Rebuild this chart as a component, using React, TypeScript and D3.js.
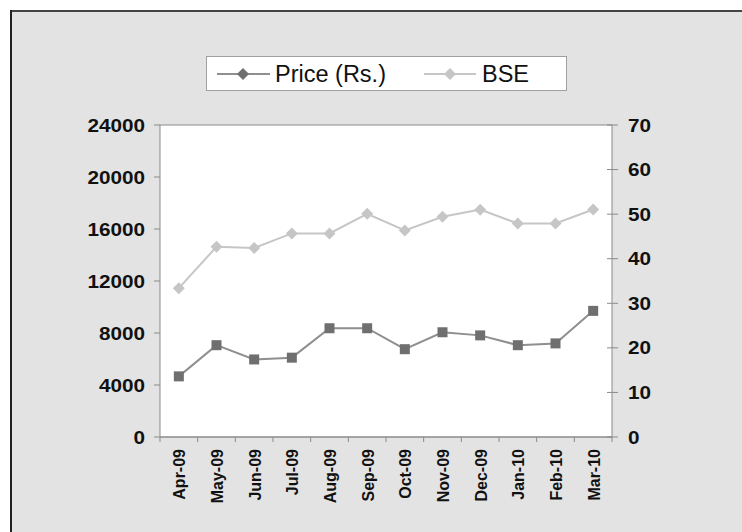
import React from "react";
import { scaleBand, scaleLinear, line } from "d3";

// months on the x axis
const months = [
  "Apr-09", "May-09", "Jun-09", "Jul-09", "Aug-09", "Sep-09",
  "Oct-09", "Nov-09", "Dec-09", "Jan-10", "Feb-10", "Mar-10",
];
// share price, read against the right axis
const price = [13.6, 20.6, 17.4, 17.8, 24.4, 24.4, 19.7, 23.5, 22.8, 20.6, 21.0, 28.3];
// BSE sensex, read against the left axis
const bse = [11450, 14630, 14530, 15660, 15660, 17170, 15890, 16940, 17490, 16420, 16420, 17500];

const leftTicks = [0, 4000, 8000, 12000, 16000, 20000, 24000];
const rightTicks = [0, 10, 20, 30, 40, 50, 60, 70];

const W = 742;
const H = 532;
const plot = { left: 160, right: 612, top: 125, bottom: 437 };
const font = "'Liberation Sans', Arial, Helvetica, sans-serif";

const priceCol = "#6f6f6f";
const priceLine = "#8f8f8f";
const bseCol = "#c6c6c6";
const axisCol = "#8a8a8a";

export default function App() {
  const x = scaleBand().domain(months).range([plot.left, plot.right]);
  const yL = scaleLinear().domain([0, 24000]).range([plot.bottom, plot.top]);
  const yR = scaleLinear().domain([0, 70]).range([plot.bottom, plot.top]);
  const cx = (m) => x(m) + x.bandwidth() / 2;

  const bseLine = line<number>()
    .x((d, i) => cx(months[i]))
    .y((d) => yL(d));
  const priceLinePath = line<number>()
    .x((d, i) => cx(months[i]))
    .y((d) => yR(d));

  const diamond = (px, py, r, fill) => (
    <path
      d={`M${px},${py - r}L${px + r},${py}L${px},${py + r}L${px - r},${py}Z`}
      fill={fill}
    />
  );

  return (
    <div style={{ position: "absolute", left: 0, top: 0 }}>
      <svg width={W} height={H} style={{ display: "block" }}>
        <rect x={0} y={0} width={W} height={H} fill="#fff" />
        <rect x={10} y={10} width={W} height={H} fill="#e3e3e3" />
        <line x1={10} x2={W} y1={11} y2={11} stroke="#444" strokeWidth={2} />
        <line x1={11} x2={11} y1={10} y2={H} stroke="#222" strokeWidth={2} />

        {/* legend */}
        <rect x={206.5} y={56.5} width={360} height={34} fill="#fff" stroke="#a0a0a0" />
        <line x1={217} x2={270} y1={74} y2={74} stroke={priceLine} strokeWidth={2} />
        {diamond(243, 74, 6, priceCol)}
        <text x={275} y={82} fontFamily={font} fontSize={23.5} fill="#111">
          Price (Rs.)
        </text>
        <line x1={424} x2={476} y1={74} y2={74} stroke={bseCol} strokeWidth={2} />
        {diamond(450, 74, 6, bseCol)}
        <text x={482} y={82} fontFamily={font} fontSize={23.5} fill="#111">
          BSE
        </text>

        {/* plot area */}
        <rect
          x={plot.left}
          y={plot.top}
          width={plot.right - plot.left}
          height={plot.bottom - plot.top}
          fill="#fff"
          stroke={axisCol}
        />

        {/* left axis */}
        {leftTicks.map((t) => (
          <g key={"l" + t}>
            <line x1={plot.left - 6} x2={plot.left} y1={yL(t)} y2={yL(t)} stroke={axisCol} />
            <text
              transform={`translate(145, ${yL(t) + 6.5}) scale(1.12, 1)`}
              textAnchor="end"
              fontFamily={font}
              fontWeight="bold"
              fontSize={18.5}
              fill="#111"
            >
              {t}
            </text>
          </g>
        ))}

        {/* right axis */}
        {rightTicks.map((t) => (
          <g key={"r" + t}>
            <line x1={plot.right - 5} x2={plot.right + 6} y1={yR(t)} y2={yR(t)} stroke={axisCol} />
            <text
              transform={`translate(628, ${yR(t) + 6.5}) scale(1.12, 1)`}
              fontFamily={font}
              fontWeight="bold"
              fontSize={18.5}
              fill="#111"
            >
              {t}
            </text>
          </g>
        ))}

        {/* x axis */}
        <line x1={plot.left} x2={plot.right} y1={plot.bottom} y2={plot.bottom} stroke={axisCol} />
        {months.map((m, i) => (
          <line
            key={"xt" + m}
            x1={x(m)}
            x2={x(m)}
            y1={plot.bottom}
            y2={plot.bottom + 5}
            stroke={axisCol}
          />
        ))}
        <line x1={plot.right} x2={plot.right} y1={plot.bottom} y2={plot.bottom + 5} stroke={axisCol} />
        {months.map((m) => (
          <text
            key={"xl" + m}
            transform={`translate(${cx(m) + 6.5}, 449) rotate(-90)`}
            textAnchor="end"
            fontFamily={font}
            fontWeight="bold"
            fontSize={16}
            fill="#111"
          >
            {m}
          </text>
        ))}

        {/* BSE series */}
        <path d={bseLine(bse)} fill="none" stroke={bseCol} strokeWidth={2} />
        {bse.map((v, i) => (
          <g key={"b" + i}>{diamond(cx(months[i]), yL(v), 6, bseCol)}</g>
        ))}

        {/* Price series */}
        <path d={priceLinePath(price)} fill="none" stroke={priceLine} strokeWidth={2} />
        {price.map((v, i) => (
          <rect
            key={"p" + i}
            x={cx(months[i]) - 5}
            y={yR(v) - 5}
            width={10}
            height={10}
            fill={priceCol}
          />
        ))}
      </svg>
    </div>
  );
}
